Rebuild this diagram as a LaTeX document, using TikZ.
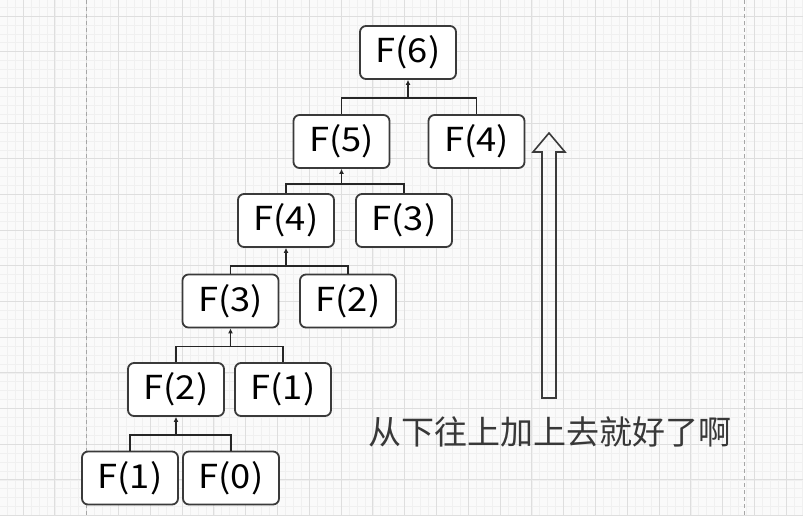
\documentclass[tikz,border=0pt]{standalone}
\usepackage{fontspec}
\newfontfamily\ffont[FakeStretch=1.1]{Noto Sans CJK SC}
\newfontfamily\cjk{Noto Sans CJK SC}
\usetikzlibrary{arrows.meta,calc}
\definecolor{gridmaj}{HTML}{DEDEDE}
\definecolor{gridmin}{HTML}{F0F0F0}
\definecolor{boxline}{HTML}{3A3A3A}
\definecolor{txtgray}{HTML}{383838}
\begin{document}
\begin{tikzpicture}[x=1pt,y=-1pt,
  fbox/.style={draw=boxline,line width=1.8pt,rounded corners=6pt,fill=white,
    minimum width=96pt,minimum height=53pt,inner sep=0pt,
    font=\ffont\fontsize{33}{33}\selectfont,text=black},
  link/.style={draw=black!85,line width=1.2pt},
  up/.style={link,-{Latex[length=5pt,width=5pt]}}]
\useasboundingbox (0,0) rectangle (803,515);
\fill[white!98!black] (0,0) rectangle (803,515);
% minor grid
\foreach \k in {-4,...,104} {\draw[gridmin,line width=0.6pt] ({23+7.95*\k},0) -- ({23+7.95*\k},515);}
\foreach \k in {-2,...,58} {\draw[gridmin,line width=0.6pt] (0,{16+8.92*\k}) -- (803,{16+8.92*\k});}
% major grid
\foreach \k in {-1,...,25} {\draw[gridmaj,line width=1pt] ({23+31.8*\k},0) -- ({23+31.8*\k},515);}
\foreach \k in {-1,...,14} {\draw[gridmaj,line width=1pt] (0,{16+35.67*\k}) -- (803,{16+35.67*\k});}
% dashed guides
\draw[gray!70,line width=1pt,dash pattern=on 4pt off 3pt] (86,0) -- (86,515);
\draw[gray!70,line width=1pt,dash pattern=on 4pt off 3pt] (744,0) -- (744,515);
% nodes
\node[fbox] (F6)  at (408,52.5)  {F(6)};
\node[fbox] (F5)  at (341.5,141.5) {F(5)};
\node[fbox] (F4r) at (476.5,141.5) {F(4)};
\node[fbox] (F4)  at (286,220.5) {F(4)};
\node[fbox] (F3r) at (404,220.5) {F(3)};
\node[fbox] (F3)  at (230.5,301) {F(3)};
\node[fbox] (F2r) at (348,301) {F(2)};
\node[fbox] (F2)  at (176,389.5) {F(2)};
\node[fbox] (F1r) at (283,389.5) {F(1)};
\node[fbox] (F1)  at (130,478) {F(1)};
\node[fbox] (F0)  at (231,478) {F(0)};
% connectors
\foreach \p/\l/\r/\g in {F6/F5/F4r/18,F5/F4/F3r/15,F4/F3/F2r/18,F3/F2/F1r/18,F2/F1/F0/18} {
  \path (\p.south) ++(0,\g) coordinate (j\p);
  \draw[link] (\l.north) |- (j\p) -| (\r.north);
  \draw[up] (j\p) -- (\p.south);
}
% hollow arrow
\draw[boxline,line width=1.6pt,line join=miter]
  (542,398) -- (542,152) -- (533,152) -- (549,133) -- (565,152) -- (556,152) -- (556,398) -- cycle;
% caption
\node[text=txtgray,font=\cjk\fontsize{33}{33}\selectfont,inner sep=0pt] (cap) at (550,432) {从下往上加上去就好了啊};
\end{tikzpicture}
\end{document}
